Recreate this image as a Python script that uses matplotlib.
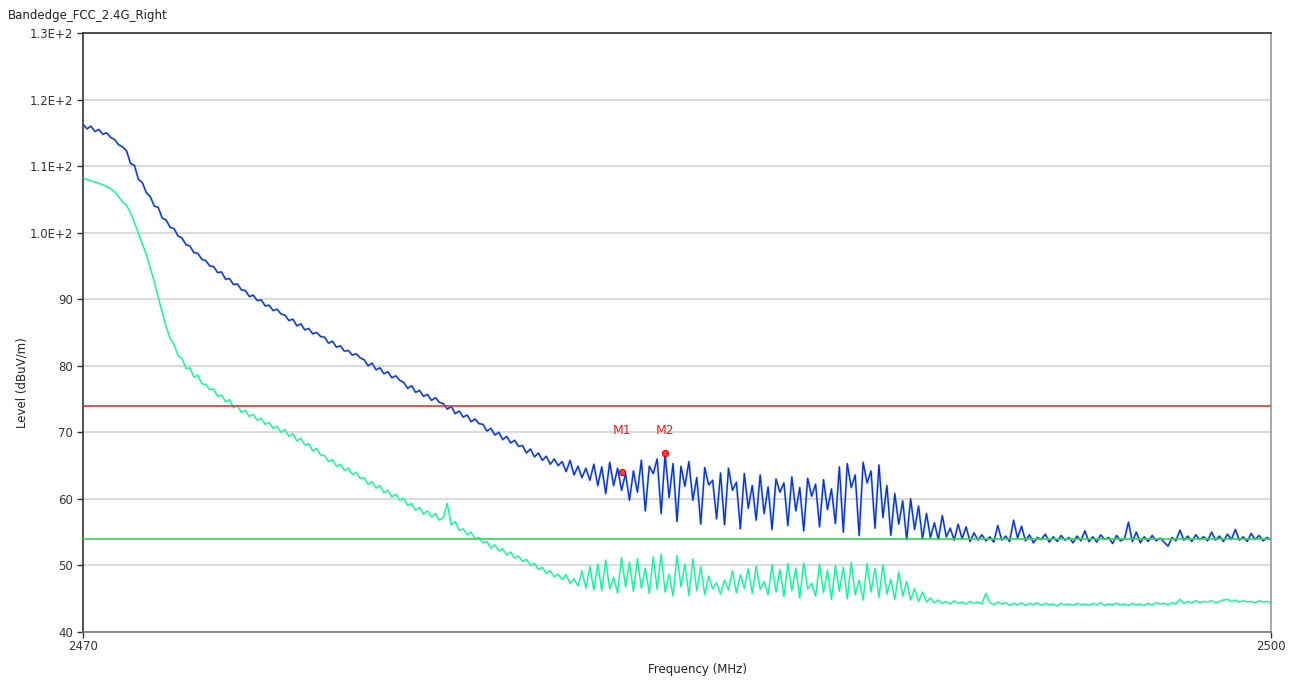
import numpy as np
import matplotlib
matplotlib.use('Agg')
import matplotlib.pyplot as plt

# Frequency grid (MHz), one reading every 0.1 MHz
freq = np.linspace(2470, 2500, 301)

# Peak trace (dark blue)
peak_level = [
    116.3, 115.6, 116.0, 115.2, 115.5, 114.8, 115.0, 114.3, 114.0, 113.2,
    112.9, 112.3, 110.4, 110.1, 108.0, 107.5, 106.0, 105.4, 104.0, 103.8,
    102.2, 101.9, 100.8, 100.6, 99.5, 99.2, 98.2, 98.0, 97.0, 96.9,
    96.0, 95.8, 95.0, 94.9, 94.0, 94.1, 93.0, 93.1, 92.2, 92.3,
    91.4, 91.3, 90.4, 90.6, 89.8, 89.9, 89.0, 89.1, 88.3, 88.5,
    87.8, 87.6, 86.8, 87.0, 86.0, 86.3, 85.4, 85.6, 84.8, 85.0,
    84.4, 84.3, 83.4, 83.7, 82.8, 83.0, 82.2, 82.3, 81.6, 81.8,
    81.2, 80.9, 80.0, 80.4, 79.4, 79.7, 78.8, 79.1, 78.2, 78.5,
    77.8, 77.5, 76.6, 77.0, 76.0, 76.3, 75.4, 75.7, 74.8, 75.2,
    74.5, 74.3, 73.5, 73.9, 72.8, 73.2, 72.3, 72.6, 71.6, 72.0,
    71.3, 71.2, 70.2, 70.6, 69.6, 70.0, 68.9, 69.4, 68.4, 68.8,
    67.9, 68.0, 66.9, 67.5, 66.3, 66.9, 65.8, 66.4, 65.2, 66.0,
    65.0, 65.6, 64.1, 65.8, 63.6, 64.9, 63.2, 64.6, 62.8, 65.2,
    62.0, 64.8, 60.8, 65.5, 62.0, 64.6, 61.3, 63.8, 59.8, 64.2,
    61.0, 65.8, 58.2, 64.9, 63.8, 66.0, 57.8, 66.8, 60.2, 65.3,
    56.6, 64.9, 61.9, 65.6, 59.8, 63.2, 56.2, 64.7, 62.1, 62.8,
    57.0, 63.9, 56.1, 64.6, 61.3, 62.5, 55.5, 63.8, 58.6, 62.0,
    56.8, 63.6, 57.8, 61.8, 55.4, 63.0, 61.0, 62.4, 56.0, 63.3,
    58.2, 61.7, 55.2, 63.1, 60.4, 62.2, 55.8, 62.9, 58.4, 61.5,
    56.3, 64.8, 55.0, 65.3, 61.7, 63.6, 54.5, 65.5, 62.4, 64.2,
    55.6, 65.1, 57.2, 62.0, 54.5, 60.8, 56.2, 59.7, 53.9, 60.0,
    55.4, 58.9, 54.0, 57.8, 54.2, 56.4, 53.9, 57.5, 54.3, 55.6,
    53.8, 56.2, 54.0, 55.8, 53.6, 54.9, 53.8, 54.6, 53.7, 54.3,
    53.5, 56.0, 53.8, 54.4, 53.6, 56.8, 54.1, 55.9, 53.7, 54.6,
    53.4, 54.2, 53.9, 54.7, 53.5, 54.3, 53.6, 54.5, 53.8, 54.2,
    53.4, 54.4, 53.7, 55.2, 53.6, 54.3, 53.5, 54.6, 53.9, 54.2,
    53.3, 54.5, 53.7, 54.0, 56.5, 53.6, 55.0, 53.4, 54.3, 53.6,
    54.5, 53.7, 54.1, 53.5, 52.9, 54.2, 53.7, 55.3, 53.8, 54.4,
    53.6, 54.6, 53.9, 54.3, 53.7, 55.0, 53.8, 54.4, 53.6, 54.7,
    53.9, 55.4, 53.8, 54.3, 53.6, 54.8, 53.9, 54.5, 53.7, 54.2,
    53.9,
]

# Average trace (spring green)
avg_level = [
    108.2, 108.0, 107.8, 107.6, 107.4, 107.2, 106.9, 106.6, 106.1, 105.4,
    104.6, 104.1, 103.0, 101.5, 99.9, 98.3, 96.7, 94.7, 92.6, 90.3,
    88.0, 85.9, 84.1, 83.2, 81.5, 81.1, 79.6, 79.7, 78.3, 78.6,
    77.3, 77.2, 76.4, 76.5, 75.4, 75.6, 74.6, 74.9, 73.7, 74.0,
    73.0, 73.3, 72.4, 72.7, 71.8, 72.1, 71.2, 71.5, 70.6, 70.9,
    70.0, 70.4, 69.4, 69.8, 68.7, 69.1, 68.1, 68.3, 67.2, 67.6,
    66.6, 66.5, 65.6, 65.9, 64.9, 65.2, 64.3, 64.6, 63.7, 64.0,
    63.1, 63.2, 62.2, 62.6, 61.6, 62.0, 60.9, 61.3, 60.3, 60.7,
    59.8, 60.1, 59.0, 59.3, 58.3, 58.7, 57.7, 58.2, 57.3, 57.8,
    56.8, 57.2, 59.3, 56.1, 56.6, 55.3, 55.5, 54.6, 55.0, 54.0,
    54.2, 53.4, 53.6, 52.6, 53.1, 52.2, 52.5, 51.6, 52.0, 51.1,
    51.4, 50.6, 50.9, 50.0, 50.3, 49.4, 49.7, 48.8, 49.2, 48.3,
    48.7, 47.9, 48.6, 47.3, 48.0, 46.9, 49.2, 46.6, 49.8, 46.3,
    50.2, 46.2, 50.8, 46.5, 48.2, 45.9, 51.2, 46.8, 50.5, 46.1,
    51.0, 46.6, 49.6, 45.8, 51.3, 46.4, 51.7, 46.0, 48.7, 45.4,
    51.5, 46.8, 50.2, 45.5, 51.0, 46.2, 49.8, 45.6, 48.4, 46.5,
    47.4, 45.7, 47.8, 46.3, 49.2, 45.9, 48.6, 46.6, 49.5, 45.8,
    49.9, 46.4, 47.6, 45.6, 50.1, 46.0, 49.4, 45.3, 50.3, 46.2,
    49.6, 45.1, 50.4, 46.5, 47.3, 45.4, 50.2, 45.9, 49.3, 44.9,
    50.0, 46.1, 49.7, 45.0, 50.5, 45.6, 47.8, 44.8, 50.3, 46.0,
    49.6, 45.2, 50.1, 45.7, 47.9, 44.9, 49.0, 45.4, 47.6, 44.8,
    46.5, 44.6, 46.0, 44.5, 45.1, 44.4, 44.8, 44.3, 44.6, 44.2,
    44.7, 44.3, 44.5, 44.2, 44.6, 44.3, 44.5, 44.2, 45.8, 44.4,
    44.1, 44.5, 44.2, 44.4, 44.0, 44.3, 44.1, 44.4, 44.0, 44.3,
    44.1, 44.4, 44.0, 44.3, 44.1, 44.2, 43.9, 44.3, 44.1, 44.2,
    44.0, 44.3, 44.1, 44.2, 44.0, 44.3, 44.1, 44.4, 44.0, 44.2,
    44.1, 44.3, 44.1, 44.2, 44.0, 44.3, 44.1, 44.2, 44.0, 44.3,
    44.1, 44.4, 44.2, 44.3, 44.1, 44.4, 44.2, 44.9, 44.3, 44.6,
    44.4, 44.7, 44.4, 44.6, 44.5, 44.7, 44.4, 44.6, 44.8, 44.9,
    44.6, 44.8, 44.5, 44.7, 44.5, 44.6, 44.4, 44.7, 44.5, 44.6,
    44.4,
]

# Limit lines (dBuV/m)
peak_limit = 74
avg_limit = 54

# Markers
marker_names = ['M1', 'M2']
marker_freq = [2483.61, 2484.70]
marker_level = [64.0, 66.9]

yticks = [40, 50, 60, 70, 80, 90, 100, 110, 120, 130]
ytick_labels = ['40', '50', '60', '70', '80', '90', '1.0E+2', '1.1E+2', '1.2E+2', '1.3E+2']
xticks = [2470, 2500]
xtick_labels = ['2470', '2500']

plt.rcParams['font.family'] = ['DejaVu Sans']

fig = plt.figure(figsize=(12.98, 6.84), dpi=100)
ax = fig.add_axes([83 / 1298, 52 / 684, 1188 / 1298, 599 / 684])

# light halo under each trace, like the anti-aliased original
ax.plot(freq, avg_level, color='#8AF8CC', lw=1.7, alpha=0.45, zorder=2)
ax.plot(freq, avg_level, color='#12F29A', lw=0.9, zorder=3)
ax.plot(freq, peak_level, color='#7090E0', lw=1.8, alpha=0.4, zorder=3.5)
ax.plot(freq, peak_level, color='#0535C8', lw=1.0, zorder=4)
ax.axhline(peak_limit, color='#E83232', lw=1.2, zorder=5)
ax.axhline(avg_limit, color='#3CCF5A', lw=1.2, zorder=5)

ax.plot(marker_freq, marker_level, 'o', ms=4.5, mfc='#FF4040', mec='#E00000', mew=0.8, zorder=6)
label_level = 70.3
for name, f in zip(marker_names, marker_freq):
    ax.text(f, label_level, name, color='#F02020', fontsize=9, ha='center', va='center', zorder=6)

ax.set_xlim(2470, 2500)
ax.set_ylim(40, 130)
ax.set_yticks(yticks)
ax.set_yticklabels(ytick_labels)
ax.set_xticks(xticks)
ax.set_xticklabels(xtick_labels)
ax.tick_params(axis='both', labelsize=8.5, length=4, width=1, colors='#333333', pad=3)
ax.tick_params(axis='x', pad=2)
ax.yaxis.grid(True, color='#D4D4D4', lw=1.2)
ax.set_axisbelow(True)

ax.spines['left'].set_color('#333333')
ax.spines['top'].set_color('#333333')
ax.spines['bottom'].set_color('#777777')
ax.spines['right'].set_color('#999999')
for s in ax.spines.values():
    s.set_linewidth(1.2)

fig.text(8 / 1298, 1 - 16 / 684, 'Bandedge_FCC_2.4G_Right', fontsize=8.5, color='#222222',
         ha='left', va='center')
fig.text(22 / 1298, 1 - 383 / 684, 'Level (dBuV/m)', fontsize=8.5, color='#222222',
         rotation=90, ha='center', va='center')
fig.text(698 / 1298, 1 - 670 / 684, 'Frequency (MHz)', fontsize=8.5, color='#222222',
         ha='center', va='center')

fig.savefig('out.png', dpi=100)
